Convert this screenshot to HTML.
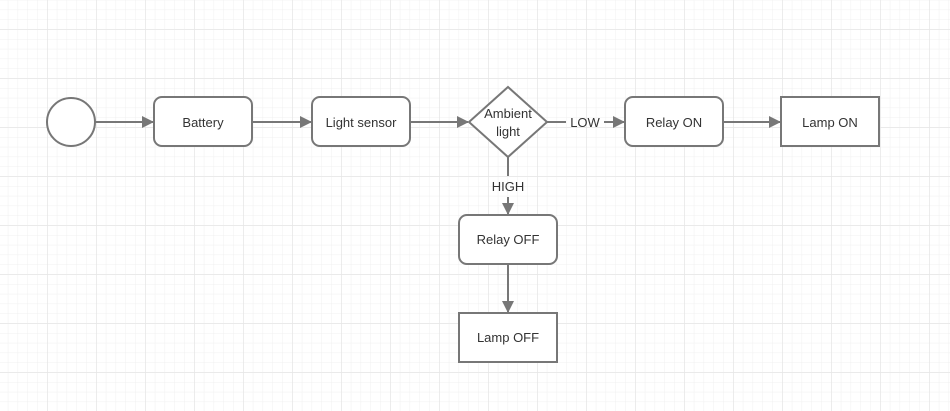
<!DOCTYPE html>
<html><head><meta charset="utf-8"><style>
html,body{margin:0;padding:0;background:#fff;}
svg{display:block;}
text{font-family:"Liberation Sans",sans-serif;font-size:13px;fill:#333;}
</style></head><body>
<svg width="950" height="411" xmlns="http://www.w3.org/2000/svg">
<defs>
<pattern id="minor" x="7.8" y="9.6" width="9.8" height="9.8" patternUnits="userSpaceOnUse">
<path d="M0 0H9.8M0 0V9.8" stroke="#f0f0f0" stroke-width="1" fill="none"/>
</pattern>
<pattern id="major" x="47" y="29" width="49" height="49" patternUnits="userSpaceOnUse">
<path d="M0 0H49M0 0V49" stroke="#e6e6e6" stroke-width="1.5" fill="none"/>
</pattern>
<marker id="a" markerWidth="12" markerHeight="12" refX="11" refY="6" orient="auto" markerUnits="userSpaceOnUse">
<path d="M0 0L12 6L0 12Z" fill="#777"/>
</marker>
</defs>
<rect width="950" height="411" fill="url(#minor)"/>
<rect width="950" height="411" fill="url(#major)"/>
<g stroke="#777" stroke-width="2" fill="#fff">
<circle cx="71" cy="122" r="24"/>
<rect x="154" y="97" width="98" height="49" rx="8"/>
<rect x="312" y="97" width="98" height="49" rx="8"/>
<polygon points="508,87 547,122 508,157 469,122"/>
<rect x="625" y="97" width="98" height="49" rx="8"/>
<rect x="781" y="97" width="98" height="49"/>
<rect x="459" y="215" width="98" height="49" rx="8"/>
<rect x="459" y="313" width="98" height="49"/>
</g>
<g stroke="#777" stroke-width="2" fill="none">
<line x1="95" y1="122" x2="153" y2="122" marker-end="url(#a)"/>
<line x1="252" y1="122" x2="311" y2="122" marker-end="url(#a)"/>
<line x1="410" y1="122" x2="468" y2="122" marker-end="url(#a)"/>
<line x1="547" y1="122" x2="566" y2="122"/>
<line x1="604" y1="122" x2="624" y2="122" marker-end="url(#a)"/>
<line x1="723" y1="122" x2="780" y2="122" marker-end="url(#a)"/>
<line x1="508" y1="157" x2="508" y2="176"/>
<line x1="508" y1="197" x2="508" y2="214" marker-end="url(#a)"/>
<line x1="508" y1="264" x2="508" y2="312" marker-end="url(#a)"/>
</g>
<g text-anchor="middle">
<text x="203" y="127">Battery</text>
<text x="361" y="127">Light sensor</text>
<text x="508" y="118">Ambient</text>
<text x="508" y="136">light</text>
<text x="585" y="127">LOW</text>
<text x="674" y="127">Relay ON</text>
<text x="830" y="127">Lamp ON</text>
<text x="508" y="191">HIGH</text>
<text x="508" y="244">Relay OFF</text>
<text x="508" y="342">Lamp OFF</text>
</g>
</svg>
</body></html>
